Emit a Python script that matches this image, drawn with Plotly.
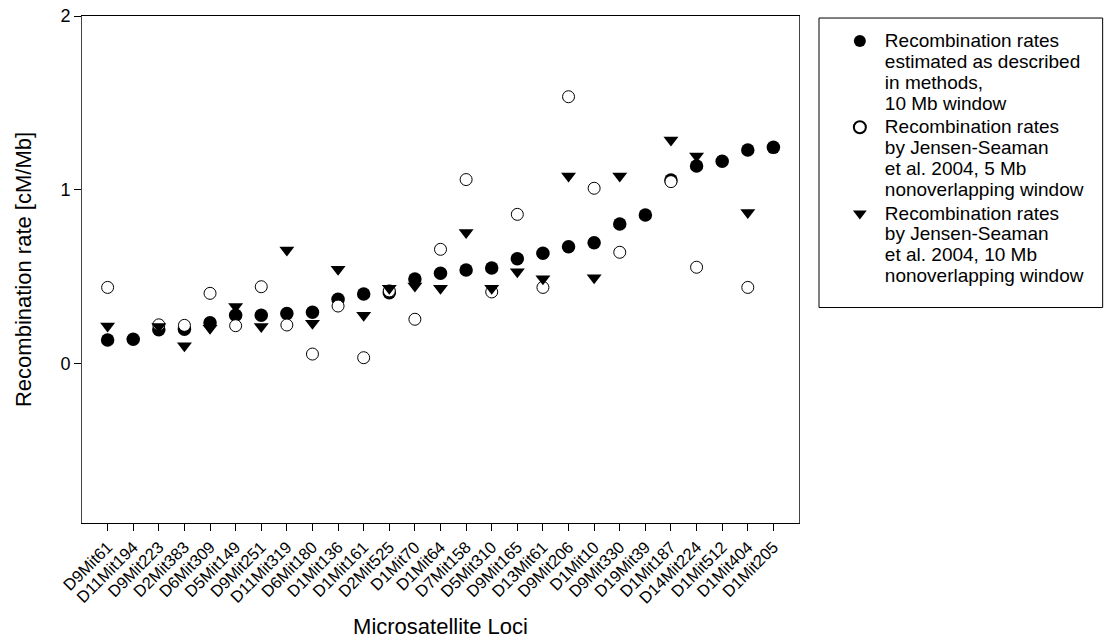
import plotly.graph_objects as go

loci = ["D9Mit61", "D11Mit194", "D9Mit223", "D2Mit383", "D6Mit309", "D5Mit149",
        "D9Mit251", "D11Mit319", "D6Mit180", "D1Mit136", "D1Mit161", "D2Mit525",
        "D1Mit70", "D1Mit64", "D7Mit158", "D5Mit310", "D9Mit165", "D13Mit61",
        "D9Mit206", "D1Mit10", "D9Mit330", "D19Mit39", "D1Mit187", "D14Mit224",
        "D1Mit512", "D1Mit404", "D1Mit205"]

rate_methods_10mb = [0.138, 0.142, 0.197, 0.200, 0.237, 0.280, 0.280, 0.290, 0.297,
                     0.372, 0.402, 0.410, 0.488, 0.521, 0.540, 0.552, 0.605, 0.636,
                     0.674, 0.697, 0.805, 0.856, 1.057, 1.138, 1.165, 1.230, 1.245]

rate_js_5mb = [0.440, None, 0.225, 0.222, 0.406, 0.220, 0.444, 0.224, 0.057,
               0.333, 0.036, 0.420, 0.257, 0.659, 1.060, 0.414, 0.860, 0.440,
               1.536, 1.010, 0.642, None, 1.048, 0.556, None, 0.440, None]

rate_js_10mb = [0.218, None, 0.215, 0.105, 0.205, 0.330, 0.215, 0.655, 0.234,
                0.544, 0.280, 0.435, 0.448, 0.435, 0.755, 0.435, 0.530, 0.490,
                1.080, 0.496, 1.080, None, 1.287, 1.195, None, 0.870, None]

y_ticks = [0, 1, 2]

legend_lines = [
    ["Recombination rates", "estimated as described", "in methods,", "10 Mb window"],
    ["Recombination rates", "by Jensen-Seaman", "et al. 2004, 5 Mb", "nonoverlapping window"],
    ["Recombination rates", "by Jensen-Seaman", "et al. 2004, 10 Mb", "nonoverlapping window"],
]
names = ["<br>".join('<span style="font-size:19px">%s</span>' % ln for ln in lines)
         for lines in legend_lines]

FONT = "Liberation Sans, Arial, sans-serif"
xidx = list(range(len(loci)))

fig = go.Figure()
fig.add_trace(go.Scatter(
    x=xidx, y=rate_methods_10mb, mode="markers", name=names[0],
    marker=dict(symbol="circle", size=13.5, color="black", line=dict(width=0)),
))
fig.add_trace(go.Scatter(
    x=xidx, y=rate_js_5mb, mode="markers", name=names[1],
    marker=dict(symbol="circle", size=12, color="white", line=dict(width=1, color="black")),
))
fig.add_trace(go.Scatter(
    x=xidx, y=rate_js_10mb, mode="markers", name=names[2],
    marker=dict(symbol="triangle-down", size=13, color="black", line=dict(width=0)),
))

fig.update_layout(
    width=1104, height=639,
    margin=dict(l=82, r=305, t=16, b=116),
    paper_bgcolor="white", plot_bgcolor="white",
    font=dict(family=FONT, color="black", size=16),
    showlegend=True,
    legend=dict(
        x=1.05, y=0.984, xanchor="left", yanchor="top",
        bgcolor="rgba(0,0,0,0)", borderwidth=0,
        font=dict(family=FONT, size=16, color="black"),
        valign="top", tracegroupgap=0, itemsizing="constant", itemwidth=40,
    ),
    shapes=[dict(type="rect", xref="paper", yref="paper",
                 x0=1.0279, x1=1.4235, y0=0.425, y1=0.996,
                 line=dict(color="black", width=1))],
)

fig.update_xaxes(
    range=[-1, 27], tickmode="array", tickvals=xidx, ticktext=loci,
    tickangle=-45, ticks="outside", ticklen=7, tickcolor="black",
    showline=True, linecolor="black", linewidth=1, mirror=True,
    showgrid=False, zeroline=False, automargin=False,
    tickfont=dict(family=FONT, size=16.5),
    title=dict(text="Microsatellite Loci", font=dict(family=FONT, size=22), standoff=16),
)
fig.update_yaxes(
    range=[-0.914, 2], tickmode="array", tickvals=y_ticks,
    ticks="outside", ticklen=7, tickcolor="black",
    showline=True, linecolor="#444444", linewidth=1, mirror=True,
    showgrid=False, zeroline=False, automargin=False,
    tickfont=dict(family=FONT, size=18),
    title=dict(text="Recombination rate [cM/Mb]", font=dict(family=FONT, size=22), standoff=22),
)

fig.write_html("out.html")
